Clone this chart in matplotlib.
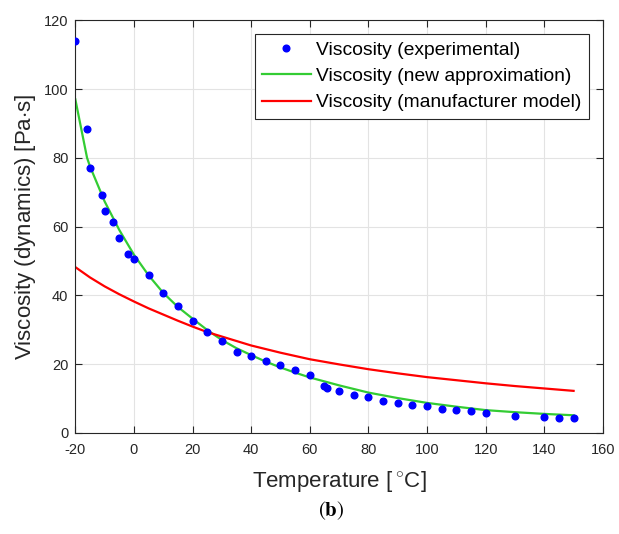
import matplotlib
matplotlib.use("Agg")
import matplotlib.pyplot as plt

# Experimental data
temp_exp = [-20, -16, -15, -11, -10, -7, -5, -2, 0, 5, 10, 15, 20, 25, 30, 35, 40, 45,
            50, 55, 60, 65, 66, 70, 75, 80, 85, 90, 95, 100, 105, 110, 115, 120, 130,
            140, 145, 150]
visc_exp = [114.1, 88.5, 76.9, 69.2, 64.4, 61.4, 56.7, 52.0, 50.7, 45.9, 40.7, 36.9,
            32.5, 29.2, 26.6, 23.5, 22.4, 20.9, 19.7, 18.3, 16.8, 13.6, 13.0, 12.2,
            11.0, 10.4, 9.3, 8.7, 8.1, 7.7, 6.9, 6.6, 6.3, 5.8, 5.0, 4.5, 4.2, 4.2]

# New approximation curve
temp_new = [-20, -16, -15, -10, -5, 0, 5, 10, 15, 20, 25, 30, 35, 40, 45, 50, 55, 60,
            70, 80, 90, 100, 110, 120, 130, 140, 150]
visc_new = [97.0, 80.0, 77.5, 67.3, 59.0, 51.8, 45.8, 40.7, 36.6, 33.2, 29.9, 27.0,
            24.6, 22.6, 20.7, 19.0, 17.5, 16.1, 13.8, 11.7, 10.1, 8.7, 7.6, 6.6, 6.0,
            5.5, 5.1]

# Manufacturer model curve
temp_man = [-20, -15, -10, -5, 0, 5, 10, 15, 20, 25, 30, 40, 50, 60, 70, 80, 90, 100,
            110, 120, 130, 140, 150]
visc_man = [48.2, 45.2, 42.6, 40.3, 38.2, 36.2, 34.4, 32.6, 30.9, 29.3, 28.0, 25.4,
            23.3, 21.4, 19.9, 18.5, 17.3, 16.2, 15.3, 14.4, 13.6, 12.9, 12.2]

xticks = [-20, 0, 20, 40, 60, 80, 100, 120, 140, 160]
yticks = [0, 20, 40, 60, 80, 100, 120]

plt.rcParams['font.family'] = ['Liberation Sans', 'DejaVu Sans']
plt.rcParams['mathtext.fontset'] = 'custom'
plt.rcParams['mathtext.rm'] = 'Liberation Sans'

fig = plt.figure(figsize=(6.19, 5.34), dpi=100)
ax = fig.add_axes([0.1217, 0.1895, 0.974 - 0.1217, 0.962 - 0.1895])

ax.plot(temp_exp, visc_exp, linestyle='none', marker='o', markersize=4.8,
        color='#0000ff', label='Viscosity (experimental)', zorder=3)
ax.plot(temp_new, visc_new, color='#33cc33', lw=1.6,
        label='Viscosity (new approximation)', zorder=2)
ax.plot(temp_man, visc_man, color='#ff0000', lw=1.6,
        label='Viscosity (manufacturer model)', zorder=2)

ax.set_xlim(-20, 160)
ax.set_ylim(0, 120)
ax.set_xticks(xticks)
ax.set_yticks(yticks)
ax.set_xticklabels([str(t) for t in xticks])
ax.set_yticklabels([str(t) for t in yticks])
ax.tick_params(direction='in', top=True, right=True, labelsize=10.5,
               length=5, width=0.8, colors='#262626')
ax.tick_params(axis='x', pad=7)
ax.tick_params(axis='y', pad=5)
ax.grid(True, color='#e3e3e3', lw=0.8)
ax.set_axisbelow(True)
for s in ax.spines.values():
    s.set_color('#262626')
    s.set_linewidth(0.8)

ax.set_xlabel('Temperature [$\\,^{\\circ}$C]', fontsize=16, color='#262626', labelpad=9)
ax.set_ylabel('Viscosity (dynamics) [Pa$\\cdot$s]', fontsize=16, color='#262626', labelpad=4)

leg = ax.legend(loc='upper right', fontsize=13.9, frameon=True, fancybox=False,
                framealpha=1, edgecolor='#262626', borderaxespad=0.7,
                handlelength=2.5, handletextpad=0.3, borderpad=0.4,
                labelspacing=0.45)
leg.get_frame().set_linewidth(0.8)

fig.text(0.535, 0.043, r'$(\mathbf{b})$', fontsize=15, math_fontfamily='stix',
         ha='center', va='center')

fig.savefig('out.png', dpi=100)
